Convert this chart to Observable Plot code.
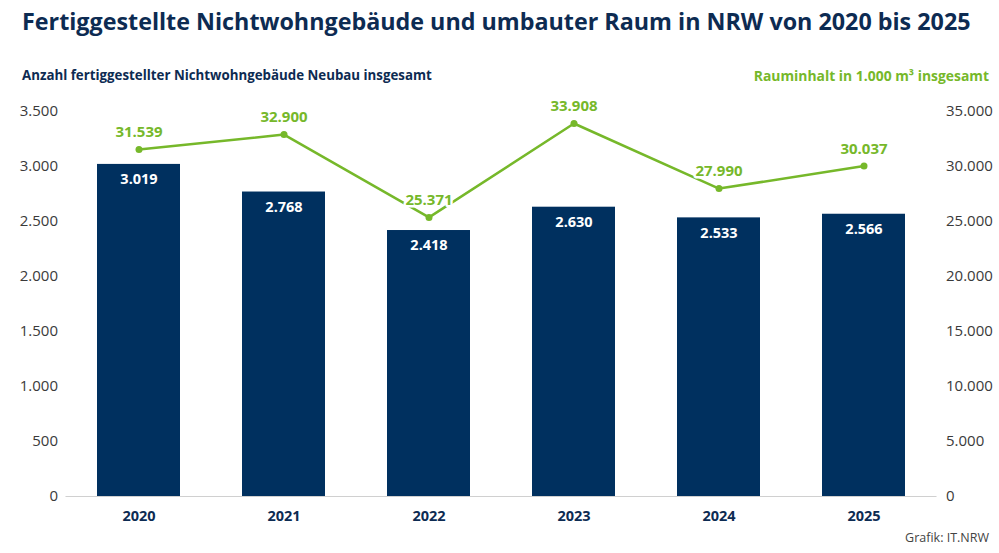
<!DOCTYPE html>
<html><head><meta charset="utf-8">
<script src="https://cdn.jsdelivr.net/npm/d3@7"></script>
<script src="https://cdn.jsdelivr.net/npm/@observablehq/plot@0.6"></script>
<style>
body{margin:0;background:#fff;font-family:"Open Sans",sans-serif;width:999px;height:553px;overflow:hidden}
#title{height:44px;line-height:42px;padding-left:22px;font-size:23.3px;font-weight:700;color:#0d2b52;white-space:nowrap}
#subs{height:46px;position:relative}
#subs div{position:absolute;top:22px;font-weight:700;white-space:nowrap}
#sl{left:22px;color:#0d2b52;font-size:13.3px}
#sr{right:10px;color:#76b82a;font-size:13.9px}
#cap{height:23px;text-align:right;padding-right:10px;font-size:12.5px;color:#444;line-height:16px}
</style></head>
<body>
<div id="title">Fertiggestellte Nichtwohngebäude und umbauter Raum in NRW von 2020 bis 2025</div>
<div id="subs"><div id="sl">Anzahl fertiggestellter Nichtwohngebäude Neubau insgesamt</div><div id="sr">Rauminhalt in 1.000 m³ insgesamt</div></div>
<div id="chart"></div>
<div id="cap">Grafik: IT.NRW</div>
<script>
const years = ["2020","2021","2022","2023","2024","2025"];
const gebaeude = [3019, 2768, 2418, 2630, 2533, 2566];
const raum = [31539, 32900, 25371, 33908, 27990, 30037];
const leftTicks = [0,500,1000,1500,2000,2500,3000,3500];
const rightTicks = [0,5000,10000,15000,20000,25000,30000,35000];

const loc = d3.formatLocale({decimal:",", thousands:".", grouping:[3], currency:["","€"]});
const fmt = loc.format(",d");
const ratio = 3500/35000;
const data = years.map((y,i)=>({year:y, g:gebaeude[i], r:raum[i], rs:raum[i]*ratio}));

const navy = "#00305f", green = "#76b82a";

const chart = Plot.plot({
  width: 999, height: 440,
  marginTop: 21, marginBottom: 34, marginLeft: 65.5, marginRight: 62.5,
  style: {fontFamily: "'Open Sans', sans-serif", fontSize: "14px", color: "#333"},
  x: {domain: years, paddingInner: 0.43, paddingOuter: 0.215, label: null},
  y: {domain: [0, 3500], label: null},
  marks: [
    Plot.gridY(leftTicks, {stroke: "#dcdcdc", strokeOpacity: 1, x1: 65, x2: 933}),
    Plot.barY(data, {x: "year", y: "g", fill: navy}),
    Plot.ruleY([0], {stroke: "#d0d0d0", strokeWidth: 1.2}),
    Plot.axisY(leftTicks, {anchor: "left", tickSize: 0, tickPadding: 8, tickFormat: fmt, fontSize: 15, fill: "#3a3a3a", label: null}),
    Plot.axisY(rightTicks.map(d=>d*ratio), {anchor: "right", tickSize: 0, tickPadding: 9, tickFormat: d => fmt(Math.round(d/ratio)), fontSize: 15, fill: "#3a3a3a", label: null}),
    Plot.axisX({tickSize: 0, tickPadding: 14, fontWeight: 700, fontSize: 14.5, fill: "#0d2b52", label: null}),
    Plot.text(data, {x: "year", y: "g", text: d => fmt(d.g), dy: 15, fill: "white", fontWeight: 700, fontSize: 14.5}),
    Plot.line(data, {x: "year", y: "rs", stroke: green, strokeWidth: 2.5}),
    Plot.dot(data, {x: "year", y: "rs", fill: green, r: 3.5}),
    Plot.text(data, {x: "year", y: "rs", text: d => fmt(d.r), dy: -17, fill: green, stroke: "white", strokeWidth: 5, fontWeight: 700, fontSize: 15})
  ]
});
document.getElementById("chart").appendChild(chart);
</script>
</body></html>
